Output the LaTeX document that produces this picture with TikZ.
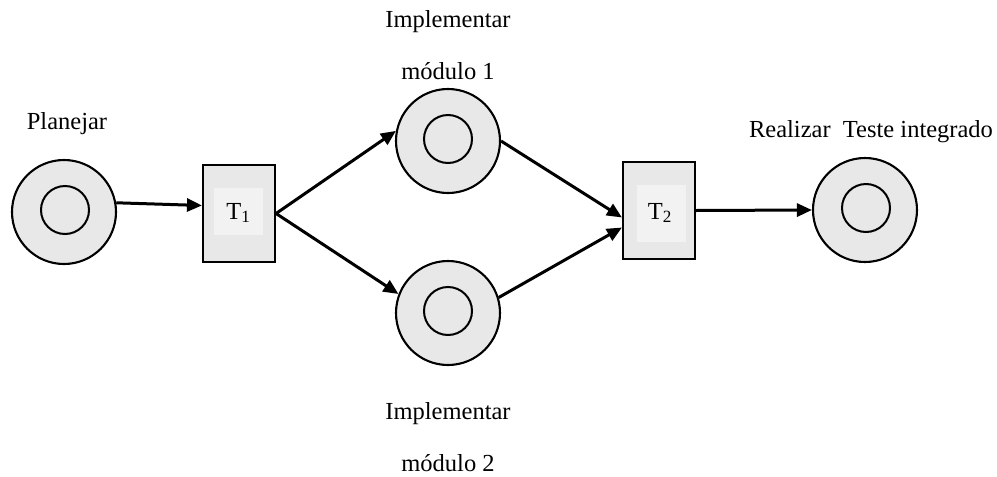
\documentclass[tikz,border=0pt]{standalone}
\usepackage{fontspec}
\setmainfont{Liberation Serif}
\usetikzlibrary{arrows.meta,calc}
\definecolor{placefill}{RGB}{232,232,232}
\definecolor{innerfill}{RGB}{242,242,242}
\begin{document}
\begin{tikzpicture}[x=1pt,y=-1pt,
  placeouter/.style={circle,draw,line width=2.1pt,fill=placefill,minimum size=104pt,inner sep=0pt},
  placeinner/.style={circle,draw,line width=2pt,minimum size=48pt,inner sep=0pt},
  transbox/.style={rectangle,draw,line width=2.1pt,fill=placefill,minimum width=72pt,minimum height=97pt,inner sep=0pt},
  transinner/.style={rectangle,fill=innerfill,minimum width=49pt,inner sep=0pt},
  lbl/.style={font=\fontsize{24.5}{29}\selectfont,inner sep=0pt},
  arc/.style={line width=3pt,-{Triangle[length=15pt,width=13pt]}}
]
\useasboundingbox (0,0) rectangle (997,477);
% places
\node[placeouter] (p0) at (64,212) {};
\node[placeinner] (p0i) at (65,210) {};
\node[placeouter] (m1) at (448,141) {};
\node[placeinner] (m1i) at (448,139) {};
\node[placeouter] (m2) at (448,313) {};
\node[placeinner] (m2i) at (448,311) {};
\node[placeouter] (p3) at (865,210) {};
\node[placeinner] (p3i) at (866,208) {};
% transitions
\node[transbox] (t1) at (239,213.5) {};
\node[transinner,minimum height=47pt] (t1i) at (238.5,211.5) {};
\node[lbl] (t1l) at (238.5,213) {T\textsubscript{1}};
\node[transbox] (t2) at (659,210.5) {};
\node[transinner,minimum height=57pt] (t2i) at (661.5,213.5) {};
\node[lbl] (t2l) at (660,213) {T\textsubscript{2}};
% labels
\node[lbl] (lp0) at (67,124) {Planejar};
\node[lbl] (lm1a) at (448,22) {Implementar};
\node[lbl] (lm1b) at (448,71) {módulo 1};
\node[lbl] (lm2a) at (448,414) {Implementar};
\node[lbl] (lm2b) at (448,463) {módulo 2};
\node[lbl] (lp3) at (871,132) {Realizar\ \ Teste integrado};
% arcs
\draw[arc] (p0.10) -- ($(t1.west)+(0,-8)$);
\draw[arc] (t1.east) -- (m1.169);
\draw[arc] (t1.east) -- (m2.159);
\draw[arc] (m1.east) -- ($(t2.west)+(0,7)$);
\draw[arc] (m2.17) -- ($(t2.west)+(0,17)$);
\draw[arc] (t2.east) -- (p3.west);
\end{tikzpicture}
\end{document}
